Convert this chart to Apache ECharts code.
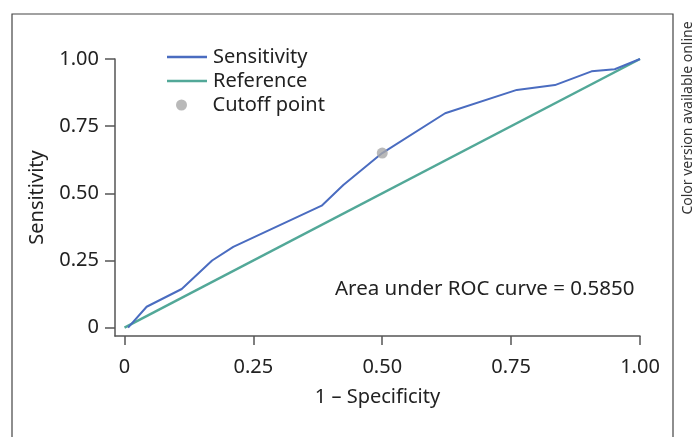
<!DOCTYPE html>
<html>
<head>
<meta charset="utf-8">
<script src="https://cdn.jsdelivr.net/npm/echarts@6/dist/echarts.min.js"></script>
<style>
  html, body { margin: 0; padding: 0; background: #fff; }
  #chart { width: 692px; height: 437px; }
</style>
</head>
<body>
<div id="chart"></div>
<script>
// ROC curve points: [1 - specificity, sensitivity]
const sensitivityPts = [
  [0.007, 0], [0.043, 0.078], [0.111, 0.144], [0.170, 0.250], [0.211, 0.301],
  [0.3825, 0.454], [0.4245, 0.531], [0.500, 0.650], [0.622, 0.798],
  [0.761, 0.885], [0.835, 0.903], [0.906, 0.954], [0.951, 0.962], [1.0, 1.0]
];
const referencePts = [[0, 0], [1, 1]];
const cutoffPts = [[0.5, 0.65]];
const tickValues = [0, 0.25, 0.5, 0.75, 1];
const aucText = 'Area under ROC curve = 0.5850';

const FONT = '"Noto Sans", sans-serif';
const AXIS_COLOR = '#555';
const TEXT_COLOR = '#222';

const fmt = v => v === 0 ? '0' : v.toFixed(2);

const chart = echarts.init(document.getElementById('chart'));

// one legend per row so each row sits where it should
const legendRow = (name, left, top, icon, h, pad) => ({
  left: left, top: top, orient: 'horizontal',
  data: [{ name: name, icon: icon }],
  itemWidth: 40, itemHeight: h,
  selectedMode: false,
  textStyle: { fontFamily: FONT, fontSize: 20, color: TEXT_COLOR, lineHeight: 24, padding: [0, 0, 0, pad] }
});

chart.setOption({
  animation: false,
  textStyle: { fontFamily: FONT },
  grid: { left: 115, right: 52, top: 59, bottom: 101 },
  legend: [
    legendRow('Sensitivity', 162, 40, 'rect', 2.5, 1),
    legendRow('Reference', 162, 64, 'rect', 2.5, 1),
    legendRow('Cutoff point', 171, 88, 'circle', 11, 6)
  ],
  xAxis: {
    type: 'value', min: -0.0184, max: 1,
    name: '1 – Specificity', nameLocation: 'middle', nameGap: 51,
    nameTextStyle: { fontFamily: FONT, fontSize: 20, color: TEXT_COLOR },
    axisLine: { show: true, onZero: false, lineStyle: { color: AXIS_COLOR, width: 1.5 } },
    axisTick: { show: true, length: 9, customValues: tickValues, lineStyle: { color: AXIS_COLOR, width: 1.5 } },
    axisLabel: { customValues: tickValues, formatter: fmt, margin: 21, fontFamily: FONT, fontSize: 20, color: TEXT_COLOR },
    splitLine: { show: false }
  },
  yAxis: {
    type: 'value', min: -0.0309, max: 1,
    name: 'Sensitivity', nameLocation: 'middle', nameGap: 68,
    nameTextStyle: { fontFamily: FONT, fontSize: 20, color: TEXT_COLOR },
    axisLine: { show: true, onZero: false, lineStyle: { color: AXIS_COLOR, width: 1.5 } },
    axisTick: { show: true, length: 10, customValues: tickValues, lineStyle: { color: AXIS_COLOR, width: 1.5 } },
    axisLabel: { customValues: tickValues, formatter: fmt, margin: 16, fontFamily: FONT, fontSize: 20, color: TEXT_COLOR },
    splitLine: { show: false }
  },
  series: [
    {
      name: 'Reference', type: 'line', data: referencePts,
      showSymbol: false, lineStyle: { color: '#52a898', width: 2.5 }, itemStyle: { color: '#52a898' }
    },
    {
      name: 'Sensitivity', type: 'line', data: sensitivityPts,
      showSymbol: false, lineStyle: { color: '#4a6cc0', width: 2 }, itemStyle: { color: '#4a6cc0' }
    },
    {
      name: 'Cutoff point', type: 'scatter', data: cutoffPts,
      symbolSize: 11, itemStyle: { color: '#a8a8a8' }, z: 5
    }
  ],
  graphic: [
    {
      type: 'rect', shape: { x: 12, y: 14, width: 661, height: 440 },
      style: { fill: 'none', stroke: '#444', lineWidth: 1.2 }, silent: true
    },
    {
      type: 'text', left: 335, top: 279,
      style: { text: aucText, fontFamily: FONT, fontSize: 20.5, fill: TEXT_COLOR }
    },
    {
      type: 'text', x: 688, y: 118, rotation: Math.PI / 2,
      style: { text: 'Color version available online', fontFamily: FONT, fontSize: 14, fill: '#333',
        align: 'center', verticalAlign: 'middle' }
    }
  ]
});
</script>
</body>
</html>
